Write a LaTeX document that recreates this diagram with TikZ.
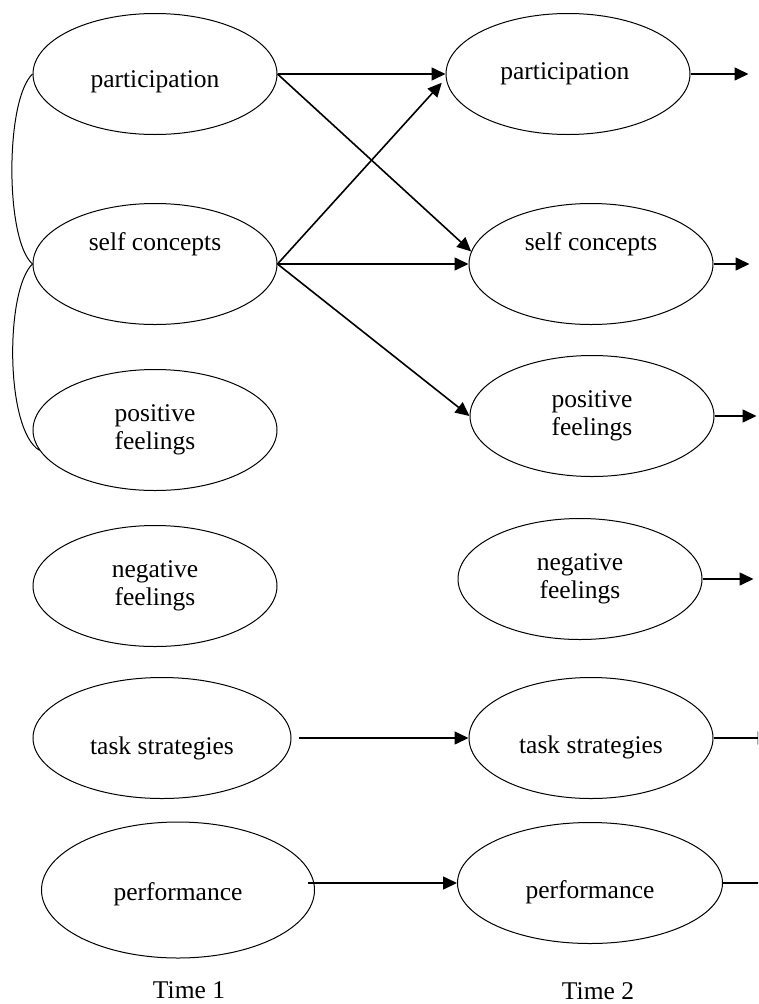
\documentclass[tikz,border=0pt]{standalone}
\usepackage{fontspec}
\setmainfont{Liberation Serif}
\usetikzlibrary{shapes.geometric,arrows.meta}

\begin{document}
\begin{tikzpicture}[x=1pt, y=-1pt, font=\fontsize{25.5}{28.5}\selectfont,
    var/.style = { draw, shape = ellipse, align = center, line width = 1pt,
                   inner sep = 0pt, minimum width = 244pt, minimum height = 121pt },
    arr/.style = { line width = 1.6pt, -{Triangle[length=14pt, width=13pt]} }]
    \useasboundingbox (0,0) rectangle (758,1004);
    \clip (0,0) rectangle (758,1004);

    % Time 1
    \node [var, label={[yshift=-8pt]center:participation}] (p1) at (155,74) {};
    \node [var, label={[yshift=20pt]center:self concepts}] (s1) at (155,264) {};
    \node [var] (f1) at (155,430) { positive \\ feelings };
    \node [var] (n1) at (155,586) { negative \\ feelings };
    \node [var, minimum width = 258pt, label={[yshift=-10pt]center:task strategies}] (t1) at (162,738) {};
    \node [var, minimum width = 273pt, minimum height = 136pt,
           label={[yshift=-4pt]center:performance}] (r1) at (178,890) {};
    \node (time1) at (189,990) { Time 1 };

    % Time 2
    \node [var] (p2) at (568,74) { participation };
    \node [var, label={[yshift=20pt]center:self concepts}] (s2) at (591,264) {};
    \node [var] (f2) at (592,416) { positive \\ feelings };
    \node [var] (n2) at (580,579) { negative \\ feelings };
    \node [var, label={[yshift=-9pt]center:task strategies}] (t2) at (591,738) {};
    \node [var, minimum width = 265pt, label={[yshift=-9pt]center:performance}] (r2) at (590,883) {};
    \node (time2) at (598,991) { Time 2 };

    % correlations
    \draw [line width = 1pt] (p1.west) .. controls (5,100) and (5,240) .. (s1.west);
    \draw [line width = 1pt] (s1.west) .. controls (5,290) and (5,430) .. (f1.190);

    % paths
    \draw [arr] (p1.east) -- (p2.west);
    \draw [arr] (p1.east) -- (s2.174);
    \draw [arr, shorten >= 6pt] (s1.east) -- (p2.182);
    \draw [arr] (s1.east) -- (s2.west);
    \draw [arr] (s1.east) -- (f2.west);
    \draw [arr, shorten <= 7pt] (t1.east) -- (t2.west);
    \draw [arr, shorten <= -7pt] (r1.east |- r2.west) -- (r2.west);

    \draw [arr] (p2.east) -- +(58,0);
    \draw [arr] (s2.east) -- +(36,0);
    \draw [arr] (f2.east) -- +(42,0);
    \draw [arr] (n2.east) -- +(51,0);
    \draw [arr] (t2.east) -- +(58,0);
    \draw [arr] (r2.east) -- +(58,0);
\end{tikzpicture}
\end{document}
